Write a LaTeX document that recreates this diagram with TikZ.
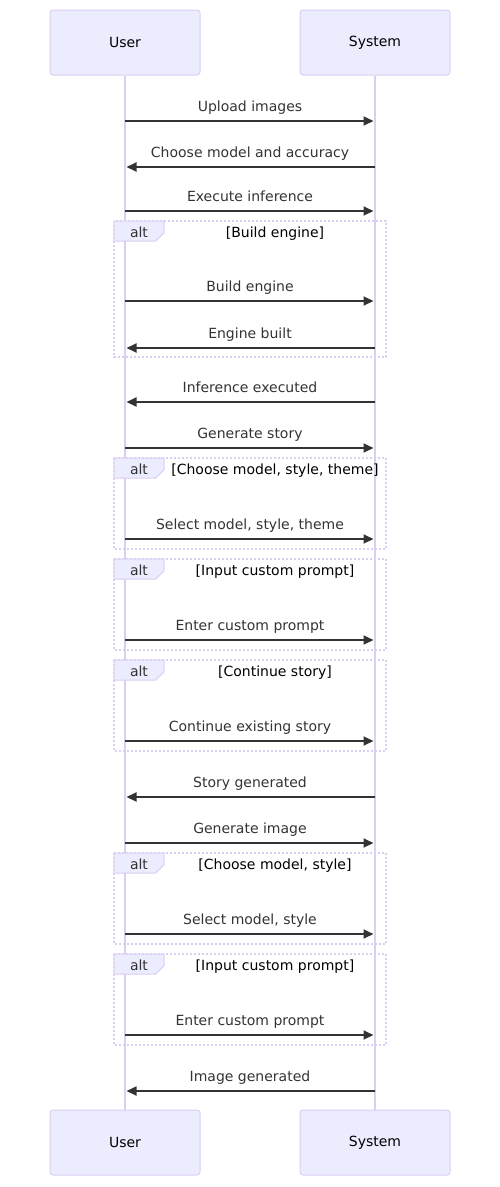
\documentclass[tikz,border=0pt]{standalone}
\usepackage{fontspec}
\setmainfont{DejaVu Sans}
\usetikzlibrary{arrows.meta,positioning}

\definecolor{actorbg}{HTML}{ECECFF}
\definecolor{actorline}{HTML}{DACEF2}
\definecolor{signal}{HTML}{333333}

\tikzset{
    actor/.style={draw=actorline, fill=actorbg, line width=1pt, rounded corners=3pt,
        minimum width=150pt, minimum height=65pt, font=\fontsize{14}{16}\selectfont},
    lifeline/.style={draw=actorline, line width=1.6pt},
    msg/.style={draw=signal, line width=1.8pt, -{Triangle[length=10pt,width=9pt]}, shorten >=1.5pt},
    msgtext/.style={text=signal, font=\fontsize{14}{16}\selectfont, anchor=base, inner sep=0pt},
    altframe/.style={draw=actorline, line width=1.6pt, dash pattern=on 2pt off 2pt},
    altbox/.style={draw=actorline, fill=actorbg, line width=1pt},
}

% alt frame: top, bottom, condition
\newcommand{\altblock}[3]{%
    \draw[altframe] (114,#1) rectangle (386,#2);
    \draw[altbox] (114,#1) -- (164,#1) -- (164,#1+12) -- (155.6,#1+20) -- (114,#1+20) -- cycle;
    \node[msgtext] at (139,#1+16) {alt};
    \node[msgtext, text=black] at (275,#1+16) {#3};
}

\begin{document}
\begin{tikzpicture}[x=1pt, y=-1pt]
    \useasboundingbox (0,0) rectangle (500,1187);

    % actors
    \node[actor] (ut) at (125,42.5) {User};
    \node[actor] (st) at (375,42.5) {System};
    \node[actor] (ub) at (125,1142.5) {User};
    \node[actor] (sb) at (375,1142.5) {System};
    \draw[lifeline] (ut.south) -- (ub.north);
    \draw[lifeline] (st.south) -- (sb.north);

    % frames
    \altblock{221}{357}{[Build engine]}
    \altblock{458}{549}{[Choose model, style, theme]}
    \altblock{559}{650}{[Input custom prompt]}
    \altblock{660}{751}{[Continue story]}
    \altblock{853}{944}{[Choose model, style]}
    \altblock{954}{1045}{[Input custom prompt]}

    % messages
    \draw[msg] (ut |- 0,121) -- (st |- 0,121) node [midway, msgtext, yshift=9.5pt] {Upload images};
    \draw[msg] (st |- 0,167) -- (ut |- 0,167) node [midway, msgtext, yshift=9.5pt] {Choose model and accuracy};
    \draw[msg] (ut |- 0,211) -- (st |- 0,211) node [midway, msgtext, yshift=9.5pt] {Execute inference};
    \draw[msg] (ut |- 0,301) -- (st |- 0,301) node [midway, msgtext, yshift=9.5pt] {Build engine};
    \draw[msg] (st |- 0,348) -- (ut |- 0,348) node [midway, msgtext, yshift=9.5pt] {Engine built};
    \draw[msg] (st |- 0,402) -- (ut |- 0,402) node [midway, msgtext, yshift=9.5pt] {Inference executed};
    \draw[msg] (ut |- 0,448) -- (st |- 0,448) node [midway, msgtext, yshift=9.5pt] {Generate story};
    \draw[msg] (ut |- 0,539) -- (st |- 0,539) node [midway, msgtext, yshift=9.5pt] {Select model, style, theme};
    \draw[msg] (ut |- 0,640) -- (st |- 0,640) node [midway, msgtext, yshift=9.5pt] {Enter custom prompt};
    \draw[msg] (ut |- 0,741) -- (st |- 0,741) node [midway, msgtext, yshift=9.5pt] {Continue existing story};
    \draw[msg] (st |- 0,797) -- (ut |- 0,797) node [midway, msgtext, yshift=9.5pt] {Story generated};
    \draw[msg] (ut |- 0,843) -- (st |- 0,843) node [midway, msgtext, yshift=9.5pt] {Generate image};
    \draw[msg] (ut |- 0,934) -- (st |- 0,934) node [midway, msgtext, yshift=9.5pt] {Select model, style};
    \draw[msg] (ut |- 0,1035) -- (st |- 0,1035) node [midway, msgtext, yshift=9.5pt] {Enter custom prompt};
    \draw[msg] (st |- 0,1091) -- (ut |- 0,1091) node [midway, msgtext, yshift=9.5pt] {Image generated};
\end{tikzpicture}
\end{document}
